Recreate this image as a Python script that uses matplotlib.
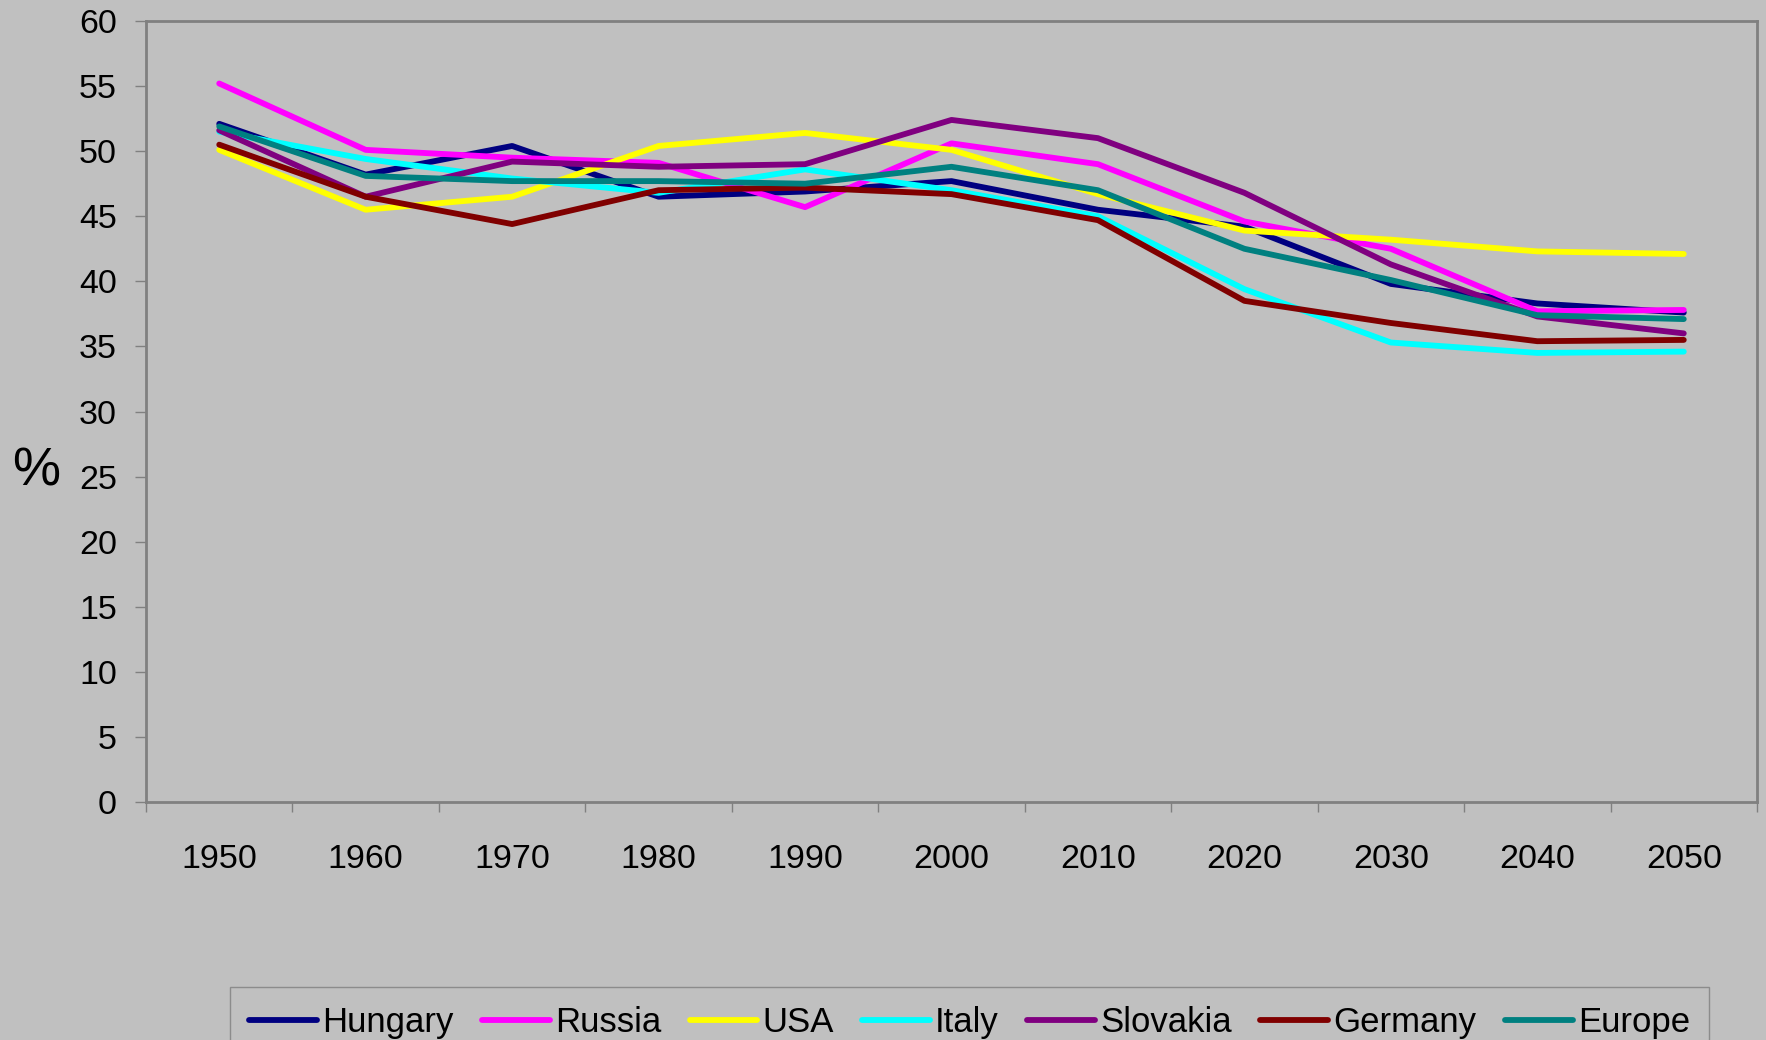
import numpy as np
import matplotlib
matplotlib.use("Agg")
import matplotlib.pyplot as plt

plt.rcParams['font.family'] = ['Liberation Sans', 'DejaVu Sans']

years = ['1950', '1960', '1970', '1980', '1990', '2000', '2010', '2020', '2030', '2040', '2050']

hungary = [52.1, 48.2, 50.4, 46.5, 46.9, 47.7, 45.5, 44.2, 39.8, 38.3, 37.6]
russia = [55.2, 50.1, 49.5, 49.1, 45.7, 50.6, 49.0, 44.6, 42.5, 37.7, 37.8]
usa = [50.1, 45.5, 46.5, 50.4, 51.4, 50.1, 46.7, 43.9, 43.2, 42.3, 42.1]
italy = [51.5, 49.4, 47.9, 46.8, 48.6, 47.0, 45.0, 39.4, 35.3, 34.5, 34.6]
slovakia = [51.6, 46.5, 49.2, 48.8, 49.0, 52.4, 51.0, 46.8, 41.3, 37.3, 36.0]
germany = [50.5, 46.5, 44.4, 47.0, 47.2, 46.7, 44.7, 38.5, 36.8, 35.4, 35.5]
europe = [51.9, 48.1, 47.7, 47.7, 47.5, 48.8, 47.0, 42.5, 40.1, 37.4, 37.1]

series = [
    ('Hungary', hungary, '#000080'),
    ('Russia', russia, '#FF00FF'),
    ('USA', usa, '#FFFF00'),
    ('Italy', italy, '#00FFFF'),
    ('Slovakia', slovakia, '#800080'),
    ('Germany', germany, '#800000'),
    ('Europe', europe, '#008080'),
]

bg = '#C0C0C0'
fig = plt.figure(figsize=(17.66, 10.40), dpi=100, facecolor=bg)
ax = fig.add_axes([146 / 1766, 1 - 802 / 1040, (1757 - 146) / 1766, (802 - 21) / 1040])
ax.set_facecolor(bg)

x = np.arange(len(years))
for name, vals, col in series:
    ax.plot(x, vals, color=col, lw=4.2, label=name, solid_capstyle='round')

ax.set_xlim(-0.5, len(years) - 0.5)
ax.set_ylim(0, 60)
ax.set_yticks(np.arange(0, 61, 5))
ax.set_xticks(np.arange(-0.5, len(years), 1))
ax.set_xticklabels([])
ax.set_xticks(x, minor=True)
ax.set_xticklabels(years, minor=True)

ax.tick_params(axis='y', which='major', length=8, width=1, color='#808080', pad=13,
               labelsize=24.5, labelcolor='black')
ax.tick_params(axis='x', which='major', length=7, width=1, color='#808080')
ax.tick_params(axis='x', which='minor', length=0, pad=30, labelsize=24.5, labelcolor='black')

for s in ax.spines.values():
    s.set_color('#808080')
    s.set_linewidth(2)

fig.text(36 / 1766, 1 - 471 / 1040, '%', fontsize=39, ha='center', va='center')

leg = fig.legend(loc='upper left', bbox_to_anchor=(230 / 1766, 1 - 987 / 1040), ncol=7,
                 fontsize=25, frameon=True, fancybox=False, facecolor=bg, edgecolor='#808080',
                 handlelength=1.95, handletextpad=0.15, columnspacing=0.82, borderpad=0.55,
                 borderaxespad=0)
leg.get_frame().set_linewidth(1)

fig.savefig('out.png', dpi=100, facecolor=bg)
